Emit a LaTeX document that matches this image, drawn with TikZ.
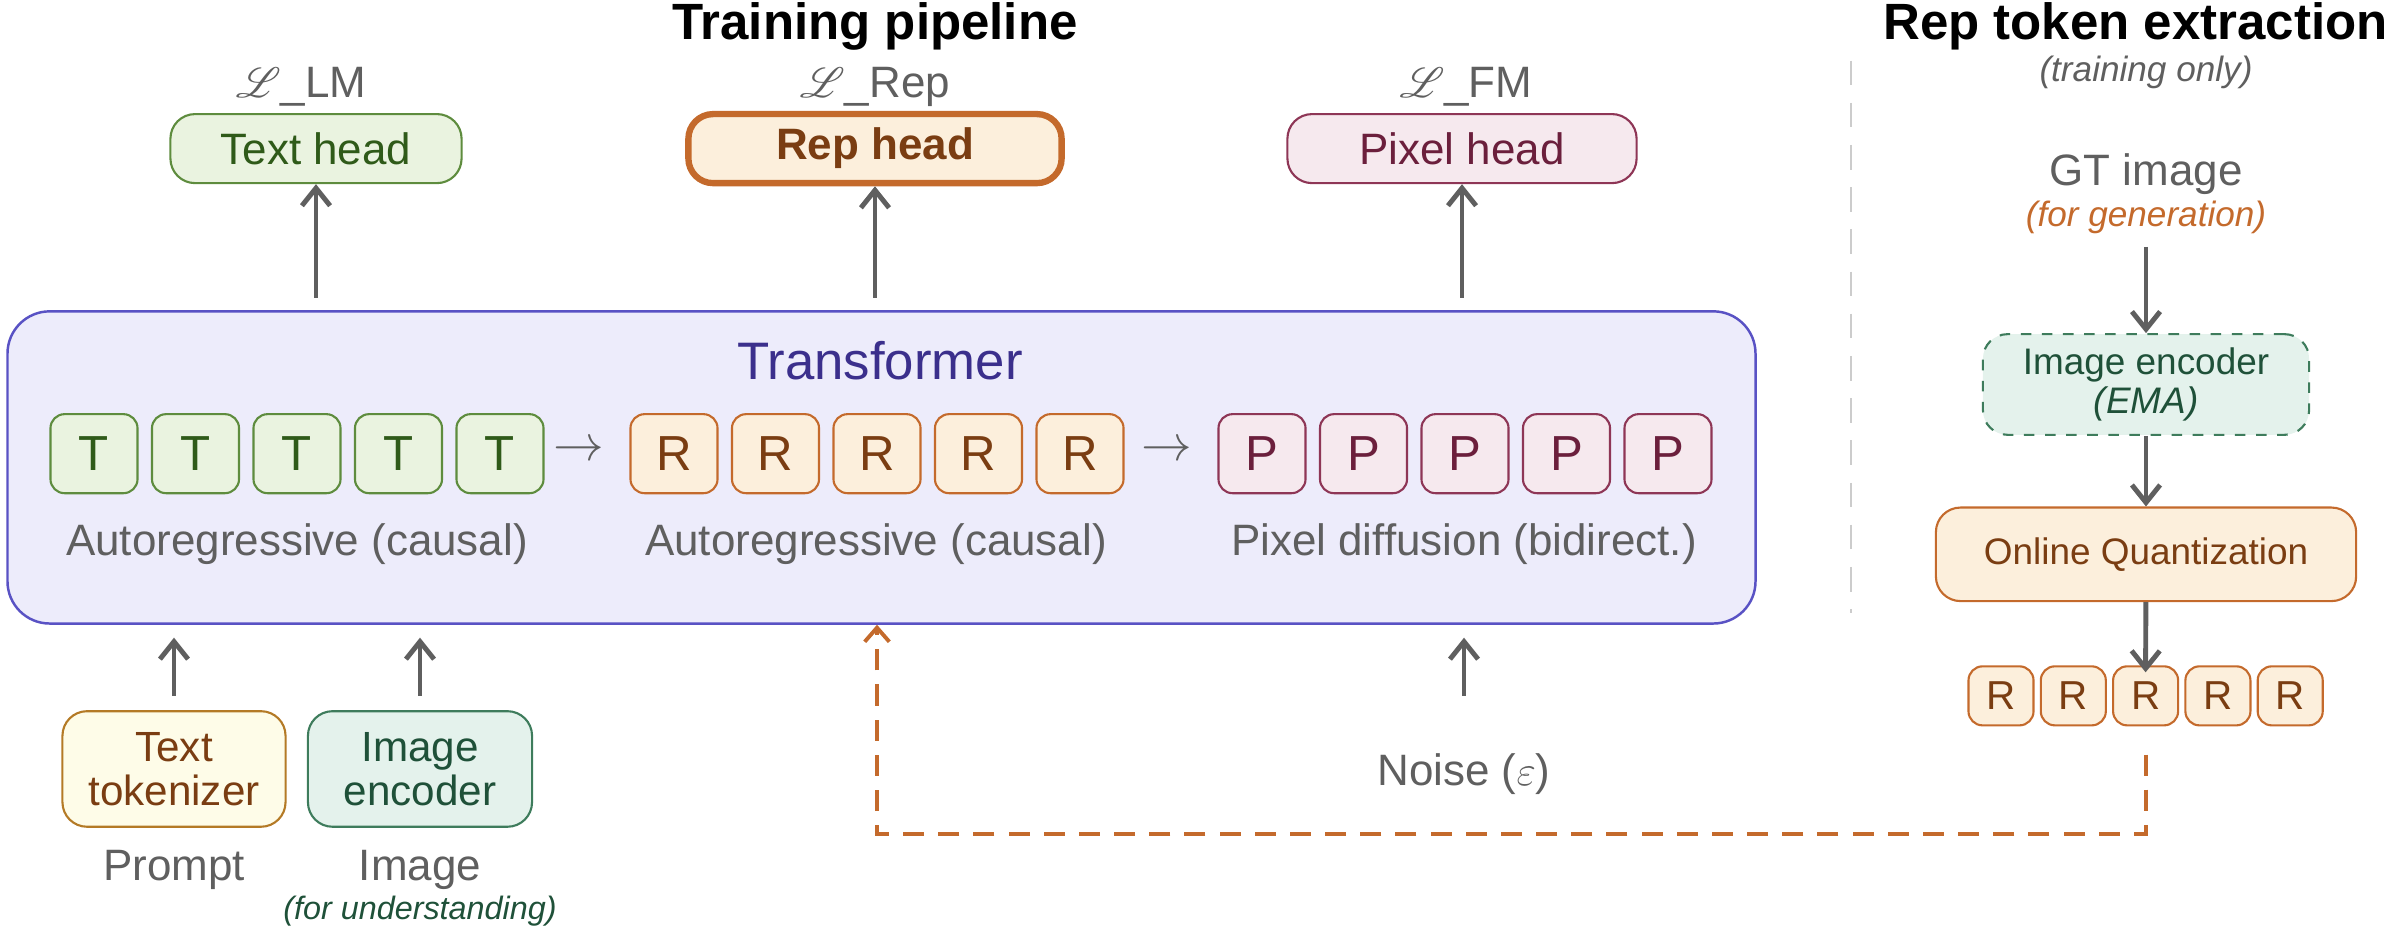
\documentclass[tikz,border=0pt]{standalone}
\usepackage{fontspec}
\setmainfont{Liberation Sans}
\usepackage{mathrsfs}
\usetikzlibrary{arrows.meta}
\definecolor{gtxt}{HTML}{5F5F5F}
\definecolor{tfill}{HTML}{EAF3E0}\definecolor{tdraw}{HTML}{5E8C3E}\definecolor{ttxt}{HTML}{2F5A19}
\definecolor{rfill}{HTML}{FCEFDC}\definecolor{rdraw}{HTML}{C46A2C}\definecolor{rtxt}{HTML}{7A3D12}
\definecolor{pfill}{HTML}{F6E9EE}\definecolor{pdraw}{HTML}{8E3656}\definecolor{ptxt}{HTML}{6B1F3C}
\definecolor{xfill}{HTML}{EDECFB}\definecolor{xdraw}{HTML}{5952C4}\definecolor{xtxt}{HTML}{3B2F8C}
\definecolor{kfill}{HTML}{FEFCE8}\definecolor{kdraw}{HTML}{B47A26}
\definecolor{efill}{HTML}{E4F2EC}\definecolor{edraw}{HTML}{3E7C5C}\definecolor{etxt}{HTML}{1F5139}
\tikzset{
  tok/.style={draw,rounded corners=4pt,line width=0.6pt,minimum width=0.87cm,minimum height=0.79cm,font=\fontsize{14}{14}\selectfont},
  stok/.style={tok,minimum width=0.65cm,minimum height=0.59cm,font=\fontsize{11.5}{12}\selectfont},
  head/.style={draw,rounded corners=7pt,line width=0.6pt,minimum width=2.91cm,minimum height=0.69cm,font=\fontsize{12.5}{13}\selectfont},
  lbl/.style={text=gtxt,font=\fontsize{12.5}{13}\selectfont},
  arr/.style={draw=gtxt,line width=1.4pt,-{Straight Barb[length=5pt,width=8pt]}},
}
\begin{document}
\begin{tikzpicture}[x=0.01cm,y=-0.007857cm]
\useasboundingbox (0,0) rectangle (2400,1200);
% titles
\node[font=\bfseries\fontsize{14.5}{15}\selectfont] (title) at (875,34) {Training pipeline};
\node[font=\bfseries\fontsize{14.5}{15}\selectfont,anchor=east] (rtitle) at (2400,34) {Rep token extraction};
\node[text=gtxt,font=\itshape\fontsize{10}{11}\selectfont] (only) at (2146,92) {(training only)};
\draw[gray!40,line width=0.6pt,dash pattern=on 7pt off 5pt] (1851,77) -- (1851,780);
% heads
\node[lbl] (llm) at (301,110) {$\mathscr{L}$\_LM};
\node[lbl] (lrep) at (875,110) {$\mathscr{L}$\_Rep};
\node[lbl] (lfm) at (1466,110) {$\mathscr{L}$\_FM};
\node[head,fill=tfill,draw=tdraw,text=ttxt] (thead) at (316,189) {Text head};
\node[head,fill=rfill,draw=rdraw,text=rtxt,line width=1.8pt,minimum width=3.73cm,font=\bfseries\fontsize{12.5}{13}\selectfont] (rhead) at (875,189) {Rep head};
\node[head,fill=pfill,draw=pdraw,text=ptxt,minimum width=3.49cm] (phead) at (1462,189) {Pixel head};
% transformer
\node[draw=xdraw,fill=xfill,line width=0.7pt,rounded corners=12pt,minimum width=17.47cm,minimum height=3.12cm] (tf) at (881.5,594.5) {};
\node[text=xtxt,font=\fontsize{15}{16}\selectfont] (tftxt) at (880,459) {Transformer};
\foreach \i in {1,...,5} {
  \node[tok,fill=tfill,draw=tdraw,text=ttxt] (t\i) at ({94+101.5*(\i-1)},577) {T};
  \node[tok,fill=rfill,draw=rdraw,text=rtxt] (r\i) at ({674+101.5*(\i-1)},577) {R};
  \node[tok,fill=pfill,draw=pdraw,text=ptxt] (p\i) at ({1262+101.5*(\i-1)},577) {P};
}
\node[lbl,font=\fontsize{14}{14}\selectfont] (ar1) at (579,574) {$\rightarrow$};
\node[lbl,font=\fontsize{14}{14}\selectfont] (ar2) at (1167,574) {$\rightarrow$};
\node[lbl] (c1) at (297,692) {Autoregressive (causal)};
\node[lbl] (c2) at (876,692) {Autoregressive (causal)};
\node[lbl] (c3) at (1464,692) {Pixel diffusion (bidirect.)};
\draw[arr] (316,379) -- (thead);
\draw[arr] (875,379) -- (rhead);
\draw[arr] (1462,379) -- (phead);
% inputs
\node[draw=kdraw,fill=kfill,text=rtxt,rounded corners=7pt,line width=0.6pt,minimum width=2.23cm,minimum height=1.155cm,align=center,font=\fontsize{12}{12.5}\selectfont] (tokz) at (174,978) {Text\\tokenizer};
\node[draw=edraw,fill=efill,text=etxt,rounded corners=7pt,line width=0.6pt,minimum width=2.24cm,minimum height=1.155cm,align=center,font=\fontsize{12}{12.5}\selectfont] (ienc) at (420,978) {Image\\encoder};
\node[lbl] (prompt) at (174,1107) {Prompt};
\node[lbl] (img) at (420,1107) {Image};
\node[text=etxt,font=\itshape\fontsize{9.2}{10}\selectfont] (under) at (420,1159) {(for understanding)};
\node[lbl] (noise) at (1464,985) {Noise ($\varepsilon$)};
\draw[arr] (174,885) -- (174,811);
\draw[arr] (420,885) -- (420,811);
\draw[arr] (1464,885) -- (1464,811);
% rep token extraction
\node[lbl] (gt) at (2146,222) {GT image};
\node[text=rdraw,font=\itshape\fontsize{10}{11}\selectfont] (gen) at (2146,277) {(for generation)};
\node[draw=edraw,fill=efill,text=etxt,dashed,rounded corners=7pt,line width=0.6pt,minimum width=3.26cm,minimum height=1.006cm,align=center,font=\fontsize{10.5}{11}\selectfont] (ema) at (2146,489) {Image encoder\\\textit{(EMA)}};
\node[draw=rdraw,fill=rfill,text=rtxt,rounded corners=7pt,line width=0.6pt,minimum width=4.2cm,minimum height=0.935cm,font=\fontsize{10.5}{12}\selectfont] (oq) at (2146,705) {Online Quantization};
\foreach \i in {1,...,5}
  \node[stok,fill=rfill,draw=rdraw,text=rtxt] (s\i) at ({2001+72.3*(\i-1)},885) {R};
\draw[arr] (2146,314) -- (ema);
\draw[arr] (ema) -- (oq);
\draw[arr] (oq) -- ([yshift=-2pt]s3.north);
\draw[rdraw,line width=1.1pt,dash pattern=on 6pt off 4pt,-{Straight Barb[length=4pt,width=7pt]}] ([yshift=-8pt]s3.south) |- (877,1061) -- (tf.south -| 877,0);
\end{tikzpicture}
\end{document}
